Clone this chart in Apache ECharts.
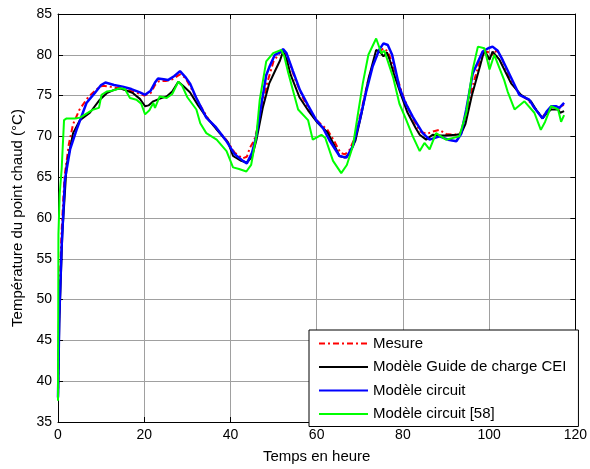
<!DOCTYPE html>
<html>
<head>
<meta charset="utf-8">
<script src="https://cdn.jsdelivr.net/npm/echarts@6/dist/echarts.min.js"></script>
<style>
html,body{margin:0;padding:0;background:#fff;}
#c{width:590px;height:469px;}
</style>
</head>
<body>
<div id="c"></div>
<script>
// Series names
const seriesNames = ['Mesure', 'Modèle Guide de charge CEI', 'Modèle circuit', 'Modèle circuit [58]'];

// Mesure (red)
const mesureX = [0,0.3,0.8,1.5,2.5,3.5,5,7,9,10.3,12,14,16,18,20,21.5,22.5,23.5,25,26.5,28.3,29.5,31,33,35,37,39,41,42.8,43.8,44.5,45.5,47,48.5,50,51.5,52.3,53.2,55,57,59,61,62.5,64,65.5,66.5,67.5,69,70.5,72,73.5,74.5,75.5,76.5,78,80,82,84,85.5,87,88.5,90,92,93.5,95,96.5,98,99.5,100.3,101,101.8,103,105,107,109,111,112.3,113.3,114.5,115.5,116.3,117.3];
const mesureY = [38,50,58,65,69,71.5,73.3,74.8,75.8,76.2,76.1,75.9,75.7,75.4,75.0,75.3,76.3,76.8,76.8,77.0,77.6,77.2,75.8,73.8,72.0,70.8,69.6,68.0,67.3,67.5,68.6,69.5,72.5,76.5,79.2,80.3,80.5,79.8,77.0,74.5,72.5,71.5,70.8,69.5,68.0,67.8,68.2,70.0,73.5,77.0,79.5,80.3,80.8,80.4,78.3,75.0,72.5,70.6,70.3,70.6,70.8,70.3,70.2,70.5,73.5,76.8,79.5,80.4,80.2,80.0,80.6,79.5,76.8,75.2,74.5,73.2,72.3,73.0,73.6,73.6,73.4,73.9];

// Modèle Guide de charge CEI (black)
const ceiX = [0,0.3,1,2,3.5,5.1,7.4,9.7,11.3,13,14.4,16,17.4,19,20.2,21,22.1,23.5,25.2,26.5,27.9,29,30.6,32.5,34.4,37.5,39.5,40.6,42.5,43.8,45,46,47.5,49,50.5,51.5,52.2,53,54,56,58,60,61.5,62.5,64,65.3,66.5,67.5,69,70.5,72,73.8,74.8,75.5,76.3,77,78,79.5,81,83,83.9,85.4,86.9,88.5,90,92.4,93.5,94.5,96,98,98.9,100.1,100.8,102.4,105.1,107.4,109.7,111,112.4,113.3,114.4,116,116.5,117.4];
const ceiY = [38,47,58,66.5,70.4,72.0,72.9,74.5,75.3,75.7,75.9,75.6,75.3,74.6,73.7,73.8,74.3,74.6,74.9,75.5,76.7,76.2,75.4,73.8,72.4,70.4,69.2,67.6,67.0,66.8,67.5,69.5,73.5,76.5,78.2,79.3,80.4,79.5,77.5,74.8,73.2,71.8,71.0,70.5,69.0,67.6,67.4,67.8,69.5,73.0,77.0,80.6,80.3,79.8,80.3,79.3,77.5,75.2,73.0,71.0,70.2,69.6,70.2,70.1,70.1,70.2,70.3,71.5,75.0,78.8,80.6,79.4,80.4,79.4,76.5,75.1,74.3,73.2,72.2,72.8,73.3,73.3,72.9,73.1];

// Modèle circuit (blue)
const circuitX = [0,0.3,0.85,1.6,2.8,4.3,6.6,8.5,10,11,13,15,17,19,20.2,21.5,22.5,23.2,24.5,25.5,27,28.3,29.5,30.6,32,34.4,36.5,39.1,41,42.9,43.8,45,46,47.2,48.3,49.1,50.3,51.5,52.2,53,54.5,56.1,58,59.9,61.5,63,65.3,66.9,68.4,70,71.5,73,74.5,75.5,76.5,77.5,79.2,80.5,82.3,84.6,86.2,88.5,90.5,92.4,93.5,94.7,96.2,98.5,99.8,100.8,102,103.1,105,107,109.3,110.5,112.4,113.3,114.4,115.5,116.3,117.4];
const circuitY = [38,48,56.6,64.7,68.4,70.8,74.1,75.3,76.3,76.6,76.3,76.1,75.8,75.4,75.1,75.6,76.6,77.1,77.0,76.9,77.4,78.0,77.3,76.5,74.8,72.3,71.2,69.4,67.8,67.0,66.7,68.0,70.0,74.0,77.5,78.6,80.0,80.3,80.7,80.2,78.0,75.7,73.8,72.0,71.0,69.5,67.6,67.4,68.8,72.0,75.5,78.6,80.6,81.4,81.2,80.0,76.0,74.2,72.4,70.4,69.6,70.0,69.6,69.4,70.3,73.3,77.7,80.4,80.8,81.0,80.5,79.4,77.3,75.1,74.5,73.5,72.2,73.0,73.7,73.7,73.5,74.1];

// Modèle circuit [58] (green)
const circuit58X = [0,0.1,0.4,0.85,1.4,2,3.9,5.1,6.6,8.2,9.5,10.1,11.3,12.5,14.4,15.5,16.7,18.2,19.3,20.2,21.2,22.1,22.5,23.6,25.2,26.5,27.9,28.8,30,32.1,33,34.4,36.8,39.1,40.6,42,43.7,44.8,46,46.8,48.3,49.9,51.8,52.5,53.4,55.7,58,59.1,61.1,62,63.8,65.7,67,68.4,69.5,70.7,72,73.8,75,75.7,77.7,79.2,80.8,82.3,83.9,85,86.2,87.7,90,93.1,94.7,96.2,97.4,98.9,100.1,101.2,103.5,104.3,105.9,108.2,110.5,112,113,114.4,116,116.7,117.4];
const circuit58Y = [37.6,58,63,66,72,72.2,72.2,72.3,72.8,73.3,73.5,75.1,75.5,75.6,75.9,75.8,74.7,74.5,74.0,72.7,73.2,74.1,73.5,74.9,74.7,75.2,76.7,76.2,74.8,73.3,71.6,70.4,69.6,68.2,66.2,66.0,65.7,66.5,70,74.5,79.2,80.2,80.6,79.8,77.8,73.3,72.0,69.6,70.2,69.8,67.0,65.5,66.5,68.8,72.5,76.5,80,82.0,80.2,80.5,77.3,74.0,72.0,70.0,68.2,69.2,68.4,70.4,69.6,70.0,72.9,78.2,81.0,80.8,78.2,80.0,76.9,75.5,73.3,74.3,72.9,70.8,71.8,73.7,73.3,71.8,72.6];

// Axis ranges / labels
const xMin = 0, xMax = 120, xStep = 20;
const yMin = 35, yMax = 85, yStep = 5;
const xTitle = 'Temps en heure';
const yTitle = 'Température du point chaud (°C)';

function pairs(xs, ys) {
  const n = Math.min(xs.length, ys.length);
  const out = [];
  for (let i = 0; i < n; i++) out.push([xs[i], ys[i]]);
  return out;
}

const FONT = "'Liberation Sans', Arial, sans-serif";
const chart = echarts.init(document.getElementById('c'), null, {renderer: 'canvas'});

const baseAxis = {
  axisLine: {show: true, onZero: false, lineStyle: {color: '#000', width: 1}},
  axisTick: {show: true, inside: true, length: 5, lineStyle: {color: '#000'}},
};

function lineSeries(name, xs, ys, color, width, type, z) {
  return {
    name: name, type: 'line', data: pairs(xs, ys),
    symbol: 'none', z: z,
    color: color,
    lineStyle: {color: color, width: width, type: type}
  };
}

chart.setOption({
  animation: false,
  backgroundColor: '#fff',
  grid: {left: 58, right: 14, top: 14, bottom: 46, containLabel: false},
  xAxis: [
    Object.assign({}, baseAxis, {
      type: 'value', min: xMin, max: xMax, interval: xStep, position: 'bottom',
      name: xTitle, nameLocation: 'middle', nameGap: 27,
      nameTextStyle: {fontFamily: FONT, fontSize: 15, color: '#000'},
      axisLabel: {fontFamily: FONT, fontSize: 14, color: '#000', margin: 6},
      splitLine: {show: true, lineStyle: {color: '#a0a0a0', width: 1}}
    }),
    Object.assign({}, baseAxis, {
      type: 'value', min: xMin, max: xMax, interval: xStep, position: 'top',
      axisLabel: {show: false}, splitLine: {show: false}
    })
  ],
  yAxis: [
    Object.assign({}, baseAxis, {
      type: 'value', min: yMin, max: yMax, interval: yStep, position: 'left',
      name: yTitle, nameLocation: 'middle', nameGap: 27,
      nameTextStyle: {fontFamily: FONT, fontSize: 15, color: '#000'},
      axisLabel: {fontFamily: FONT, fontSize: 14, color: '#000', margin: 6},
      splitLine: {show: true, lineStyle: {color: '#a0a0a0', width: 1}}
    }),
    Object.assign({}, baseAxis, {
      type: 'value', min: yMin, max: yMax, interval: yStep, position: 'right',
      axisLabel: {show: false}, splitLine: {show: false}
    })
  ],
  legend: {
    left: 309, top: 330,
    orient: 'vertical',
    itemWidth: 49, itemHeight: 14, itemGap: 8.5,
    padding: [6, 12, 5, 9],
    backgroundColor: '#fff',
    borderColor: '#000', borderWidth: 1, borderRadius: 0,
    itemStyle: {opacity: 0},
    textStyle: {fontFamily: FONT, fontSize: 15, color: '#000'},
    data: seriesNames
  },
  series: [
    lineSeries(seriesNames[0], mesureX, mesureY, '#ff0000', 2, [6, 3, 2, 3], 2),
    lineSeries(seriesNames[1], ceiX, ceiY, '#000000', 2, 'solid', 3),
    lineSeries(seriesNames[2], circuitX, circuitY, '#0000ff', 2.5, 'solid', 4),
    lineSeries(seriesNames[3], circuit58X, circuit58Y, '#00ff00', 2, 'solid', 5)
  ]
});
</script>
</body>
</html>
